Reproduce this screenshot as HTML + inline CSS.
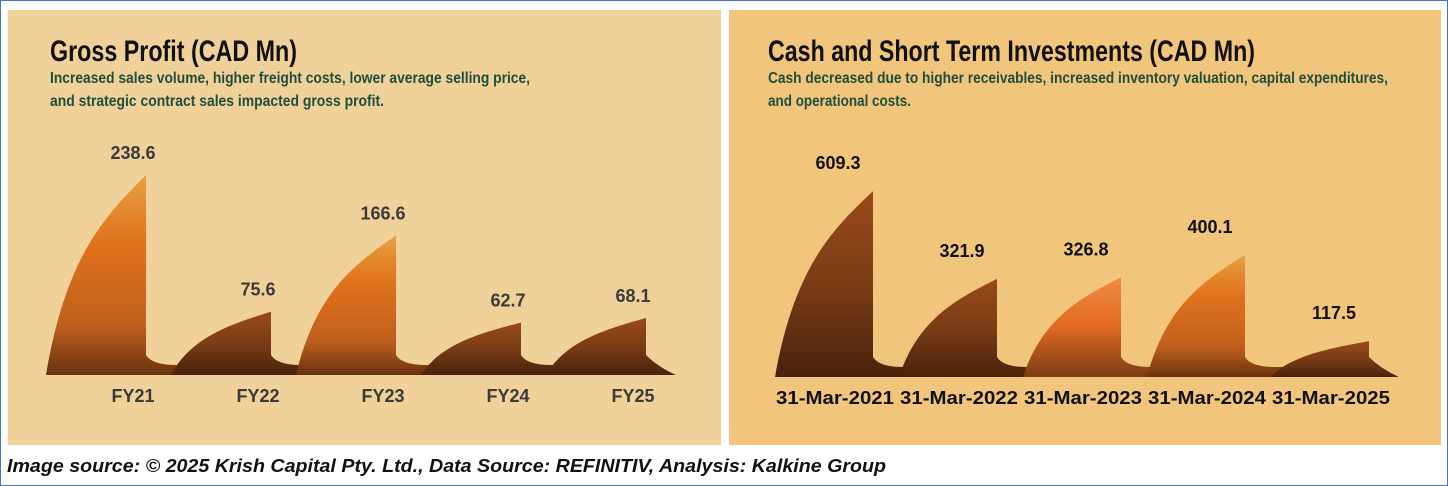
<!DOCTYPE html>
<html><head><meta charset="utf-8"><style>
html,body{margin:0;padding:0;background:#fff}
svg{display:block}
</style></head><body>
<svg width="1448" height="486" viewBox="0 0 1448 486">
<defs>
<linearGradient id="g1" x1="0" y1="0" x2="0" y2="1">
<stop offset="0" stop-color="#e8a040"/><stop offset="0.35" stop-color="#e0701c"/><stop offset="0.75" stop-color="#c0601c"/><stop offset="1" stop-color="#6a3210"/></linearGradient>
<linearGradient id="g2" x1="0" y1="0" x2="0" y2="1">
<stop offset="0" stop-color="#9a4a1a"/><stop offset="0.5" stop-color="#7a3c16"/><stop offset="1" stop-color="#4a220c"/></linearGradient>
<linearGradient id="g3" x1="0" y1="0" x2="0" y2="1">
<stop offset="0" stop-color="#f08a40"/><stop offset="0.5" stop-color="#e06a20"/><stop offset="1" stop-color="#7a3c16"/></linearGradient>
</defs>
<rect x="0.5" y="0.5" width="1447" height="485" fill="#fff" stroke="#4472c4" stroke-width="1"/>
<rect x="8" y="10" width="713" height="435" fill="#f1d19a"/>
<rect x="729" y="10" width="712" height="435" fill="#f2c57c"/>
<g font-family="'Liberation Sans Narrow','Liberation Sans',sans-serif" font-weight="bold">
<text x="50" y="61" font-size="30" textLength="247" lengthAdjust="spacingAndGlyphs" fill="#111">Gross Profit (CAD Mn)</text>
<text x="50" y="83" font-size="16" textLength="480" lengthAdjust="spacingAndGlyphs" fill="#1f4e3d">Increased sales volume, higher freight costs, lower average selling price,</text>
<text x="50" y="106" font-size="16" textLength="334" lengthAdjust="spacingAndGlyphs" fill="#1f4e3d">and strategic contract sales impacted gross profit.</text>
<text x="768" y="61" font-size="30" textLength="487" lengthAdjust="spacingAndGlyphs" fill="#111">Cash and Short Term Investments (CAD Mn)</text>
<text x="768" y="83" font-size="16" textLength="620" lengthAdjust="spacingAndGlyphs" fill="#1f4e3d">Cash decreased due to higher receivables, increased inventory valuation, capital expenditures,</text>
<text x="768" y="106" font-size="16" textLength="143" lengthAdjust="spacingAndGlyphs" fill="#1f4e3d">and operational costs.</text>
</g>
<g id="left-chart"></g>
<g id="right-chart"></g>
<text x="7" y="472" font-family="'Liberation Sans',sans-serif" font-style="italic" font-weight="bold" font-size="18" textLength="879" lengthAdjust="spacingAndGlyphs" fill="#111">Image source: © 2025 Krish Capital Pty. Ltd., Data Source: REFINITIV, Analysis: Kalkine Group</text>
</svg>
<script>
const leftCategories = ["FY21","FY22","FY23","FY24","FY25"];
const leftValues = [238.6, 75.6, 166.6, 62.7, 68.1];
const rightCategories = ["31-Mar-2021","31-Mar-2022","31-Mar-2023","31-Mar-2024","31-Mar-2025"];
const rightValues = [609.3, 321.9, 326.8, 400.1, 117.5];

const NS = "http://www.w3.org/2000/svg";
function drawChart(gid, cats, vals, cfg) {
  const g = document.getElementById(gid);
  const xC = i => cfg.x0 + i * cfg.step;
  const yV = v => cfg.base - v * cfg.scale;
  for (let i = 0; i < vals.length; i++) {
    const px = xC(i) + cfg.peakOff;
    const py = yV(vals[i]);
    const h = cfg.base - py;
    const sx = px - cfg.w;
    const b = cfg.base;
    let d;
    if (i === vals.length - 1) {
      d = `M${sx},${b} C${sx+cfg.w*0.2},${b-h*0.6} ${sx+cfg.w*0.6},${b-h*0.8} ${px},${py} L${px},${b-20} Q${px+12},${b-8} ${px+30},${b} Z`;
    } else {
      const end = px + cfg.step - cfg.w + 25;
      d = `M${sx},${b} C${sx+cfg.w*0.2},${b-h*0.6} ${sx+cfg.w*0.6},${b-h*0.8} ${px},${py} L${px},${b-20} Q${px+6},${b-10} ${px+30},${b-10} L${end},${b-10} L${end},${b} Z`;
    }
    const p = document.createElementNS(NS, "path");
    p.setAttribute("d", d);
    p.setAttribute("fill", cfg.fills[i]);
    
    
    g.appendChild(p);
    const vt = document.createElementNS(NS, "text");
    vt.setAttribute("x", xC(i) + cfg.labelOff);
    vt.setAttribute("y", py - cfg.labelGap);
    vt.setAttribute("text-anchor", "middle");
    vt.setAttribute("font-family", "'Liberation Sans',sans-serif");
    vt.setAttribute("font-weight", "bold");
    vt.setAttribute("font-size", "18");
    vt.setAttribute("fill", cfg.valColor);
    vt.textContent = vals[i].toFixed(1);
    
    
    g.appendChild(vt);
    const ct = document.createElementNS(NS, "text");
    ct.setAttribute("x", xC(i));
    ct.setAttribute("y", cfg.catY);
    ct.setAttribute("text-anchor", "middle");
    ct.setAttribute("font-family", "'Liberation Sans',sans-serif");
    ct.setAttribute("font-weight", "bold");
    ct.setAttribute("font-size", cfg.catSize);
    ct.setAttribute("textLength", cfg.catW);
    ct.setAttribute("lengthAdjust", "spacingAndGlyphs");
    ct.setAttribute("fill", cfg.catColor);
    ct.textContent = cats[i];
    
    
    g.appendChild(ct);
  }
}
drawChart("left-chart", leftCategories, leftValues, {x0:133, step:125, base:375, scale:0.838, peakOff:13, w:100, labelOff:0, labelGap:16, catY:402, catSize:18, catW:43, valColor:"#3a3a3a", catColor:"#3a3a3a", fills:["url(#g1)","url(#g2)","url(#g1)","url(#g2)","url(#g2)"]});
drawChart("right-chart", rightCategories, rightValues, {x0:835, step:124, base:377, scale:0.305, peakOff:38, w:98, labelOff:3, labelGap:22, catY:404, catSize:18, catW:118, valColor:"#111", catColor:"#111", fills:["url(#g2)","url(#g2)","url(#g3)","url(#g1)","url(#g2)"]});
</script>
</body></html>
